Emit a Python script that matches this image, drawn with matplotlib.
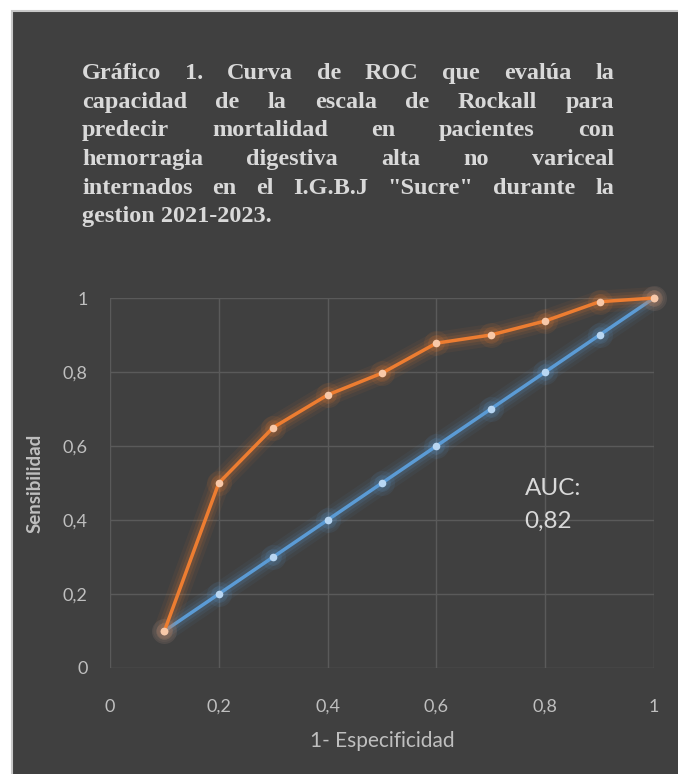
import numpy as np
import matplotlib.pyplot as plt
from matplotlib.patches import Rectangle

# datos
fpr = [0.1, 0.2, 0.3, 0.4, 0.5, 0.6, 0.7, 0.8, 0.9, 1.0]
sens_rockall = [0.1, 0.5, 0.65, 0.738, 0.797, 0.878, 0.9, 0.938, 0.99, 1.0]
sens_ref = [0.1, 0.2, 0.3, 0.4, 0.5, 0.6, 0.7, 0.8, 0.9, 1.0]
ticks = [0, 0.2, 0.4, 0.6, 0.8, 1]
tick_labels = ["0", "0,2", "0,4", "0,6", "0,8", "1"]

title_lines = [
    'Gráfico 1. Curva de ROC que evalúa la',
    'capacidad de la escala de Rockall para',
    'predecir mortalidad en pacientes con',
    'hemorragia digestiva alta no variceal',
    'internados en el I.G.B.J "Sucre" durante la',
    'gestion 2021-2023.',
]

bg = "#404040"
txt = "#d9d9d9"
tick_col = "#bfbfbf"
orange = "#ED7D31"
blue = "#5B9BD5"

fig = plt.figure(figsize=(6.78, 7.74), dpi=100)
fig.patch.set_facecolor("white")
fig.patches.append(Rectangle((12 / 678, -0.01), 1, 1.01 - 11 / 774, transform=fig.transFigure,
                             facecolor=bg, edgecolor="#c8c8c8", lw=1.5, zorder=-5))

# titulo justificado
x0, x1 = 82 / 678, 614 / 678
y_top = 1 - 79 / 774
dy = 28.7 / 774
fp = dict(family="Liberation Serif", weight="bold", size=17.5, color=txt)
renderer = fig.canvas.get_renderer()
for i, line in enumerate(title_lines):
    y = y_top - i * dy
    words = line.split(" ")
    if i == len(title_lines) - 1:
        fig.text(x0, y, line, ha="left", va="baseline", **fp)
        continue
    objs = [fig.text(0, y, w, ha="left", va="baseline", **fp) for w in words]
    widths = [o.get_window_extent(renderer).width / fig.bbox.width for o in objs]
    gap = (x1 - x0 - sum(widths)) / (len(words) - 1)
    pos = x0
    for o, w in zip(objs, widths):
        o.set_x(pos)
        pos += w + gap

ax = fig.add_axes([110 / 678, 1 - 668 / 774, 544 / 678, 370 / 774])
ax.set_facecolor(bg)
ax.set_xlim(0, 1)
ax.set_ylim(0, 1)
ax.set_xticks(ticks)
ax.set_yticks(ticks)
ax.set_xticklabels(tick_labels)
ax.set_yticklabels(tick_labels)
ax.grid(True, color="#5a5a5a", lw=1)
ax.set_axisbelow(True)
for s in ax.spines.values():
    s.set_visible(False)
ax.tick_params(length=0, colors=tick_col, labelsize=13)
ax.tick_params(axis="x", pad=22)
ax.tick_params(axis="y", pad=16)
for lab in ax.get_xticklabels() + ax.get_yticklabels():
    lab.set_family("Lato")

# efecto de brillo
for ys, c in [(sens_ref, blue), (sens_rockall, orange)]:
    for lw, a in [(16, 0.06), (11, 0.09), (7, 0.13)]:
        ax.plot(fpr, ys, color=c, lw=lw, alpha=a, solid_capstyle="round", clip_on=False)
    ax.plot(fpr, ys, color=c, lw=2.5, clip_on=False)
    for ms, a in [(18, 0.09), (12, 0.14)]:
        ax.plot(fpr, ys, "o", color=c, ms=ms, alpha=a, mew=0, clip_on=False)
    light = "#f8c8a8" if c == orange else "#b8d6f2"
    ax.plot(fpr, ys, "o", color=light, ms=5.5, mew=0, clip_on=False)

ax.text(0.762, 0.44, "AUC:\n0,82", color=txt, fontsize=17.5, family="Lato",
        va="center", ha="left", linespacing=1.7)

ax.set_xlabel("1- Especificidad", color=tick_col, fontsize=15, family="Lato", labelpad=12)
ax.set_ylabel("Sensibilidad", color=tick_col, fontsize=13.5, family="Lato",
              weight="bold")
ax.yaxis.set_label_coords(-0.122, 0.5)

fig.savefig("out.png", dpi=100, facecolor=fig.get_facecolor())
